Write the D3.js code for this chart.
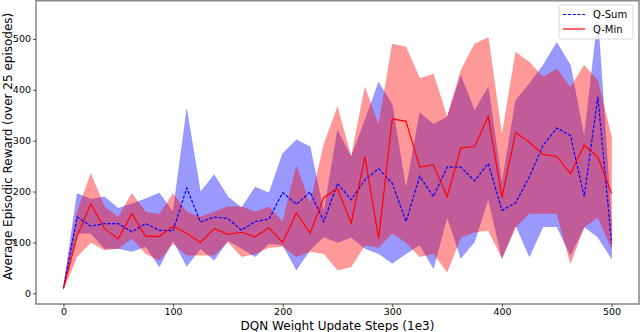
<!DOCTYPE html>
<html><head><meta charset="utf-8">
<script src="https://cdn.jsdelivr.net/npm/d3@7"></script>
<style>html,body{margin:0;padding:0;background:#fff;} svg{display:block;font-family:"DejaVu Sans",sans-serif;}</style>
</head><body>
<svg id="c" width="640" height="332"></svg>
<script>
const steps = d3.range(41).map(i => i * 12.5);
const qSum   = [10,150,132,137,137,121,137,124,123,207,140,150,147,124,141,146,198,175,199,141,216,184,223,245,216,141,230,190,248,248,221,255,163,178,229,291,325,310,190,386,98];
const qSumHi = [12,196,185,190,167,176,186,197,160,362,199,233,190,168,209,197,275,302,288,160,320,268,340,415,370,205,355,333,346,428,359,405,216,379,412,448,493,448,307,540,140];
const qSumLo = [8,118,118,88,88,82,92,52,104,53,88,65,104,88,72,98,95,46,85,111,100,110,88,78,59,78,95,49,150,69,101,186,69,134,72,131,131,75,131,110,68];
const qMin   = [10,112,176,127,107,157,112,112,132,118,100,127,116,120,111,129,100,158,118,188,206,138,268,108,343,338,248,253,190,286,288,348,188,316,297,273,269,235,291,268,196];
const qMinHi = [12,160,235,170,150,196,160,155,196,160,150,160,170,170,160,170,140,250,175,292,366,268,405,330,490,484,422,431,346,438,490,503,310,474,454,425,441,405,448,418,307];
const qMinLo = [8,72,100,85,88,108,78,65,98,75,75,75,101,72,78,90,92,72,82,78,46,52,95,90,118,100,72,78,42,110,120,124,69,130,157,157,157,59,130,150,88];
const xTicks = [0,100,200,300,400,500];
const yTicks = [0,100,200,300,400,500];
const seriesNames = ["Q-Sum","Q-Min"];
const xLabel = "DQN Weight Update Steps (1e3)";
const yLabel = "Average Episodic Reward (over 25 episodes)";

const svg = d3.select("#c");
const L = 36, R = 639, T = 0.75, B = 304;
const x = d3.scaleLinear().domain([-25, 525]).range([L, R]);
const y = d3.scaleLinear().domain([-21, 575]).range([B, T]);

const area = (hi, lo) => d3.area().x((d,i)=>x(steps[i])).y0((d,i)=>y(lo[i])).y1((d,i)=>y(hi[i]))(steps);
const line = v => d3.line().x((d,i)=>x(steps[i])).y((d,i)=>y(v[i]))(steps);

const g = svg.append("g");
g.append("path").attr("d", area(qSumHi, qSumLo)).attr("fill","#0000ff").attr("fill-opacity",0.4)
  .attr("stroke","#0000ff").attr("stroke-opacity",0.15).attr("stroke-width",1);
g.append("path").attr("d", area(qMinHi, qMinLo)).attr("fill","#ff0000").attr("fill-opacity",0.4)
  .attr("stroke","#ff0000").attr("stroke-opacity",0.15).attr("stroke-width",1);
g.append("path").attr("d", line(qSum)).attr("fill","none").attr("stroke","#0000ff").attr("stroke-width",1.2).attr("stroke-dasharray","3.2,1.6");
g.append("path").attr("d", line(qMin)).attr("fill","none").attr("stroke","#ff0000").attr("stroke-width",1.2);

// frame
svg.append("rect").attr("x",L).attr("y",T).attr("width",R-L).attr("height",B-T)
  .attr("fill","none").attr("stroke","#8c8c8c").attr("stroke-width",1.6);

// axes
const xa = svg.append("g").attr("transform",`translate(0,${B})`)
  .call(d3.axisBottom(x).tickValues(xTicks).tickSize(3).tickPadding(1.5).tickFormat(d3.format("d")));
const ya = svg.append("g").attr("transform",`translate(${L},0)`)
  .call(d3.axisLeft(y).tickValues(yTicks).tickSize(3).tickPadding(2).tickFormat(d3.format("d")));
[xa, ya].forEach(a => {
  a.select(".domain").remove();
  a.selectAll("text").attr("font-family","DejaVu Sans").attr("font-size","9.5px").attr("fill","#000");
  a.selectAll("line").attr("stroke","#222").attr("stroke-width",0.8);
});

svg.append("text").attr("x",(L+R)/2).attr("y",330).attr("text-anchor","middle")
  .attr("font-size","12px").attr("fill","#000").text(xLabel);
svg.append("text").attr("transform",`translate(12,${(T+B)/2 - 6}) rotate(-90)`).attr("text-anchor","middle")
  .attr("font-size","12px").attr("fill","#000").text(yLabel);

// legend
const lg = svg.append("g");
lg.append("rect").attr("x",559).attr("y",5).attr("width",74).attr("height",34).attr("rx",2)
  .attr("fill","#fff").attr("fill-opacity",0.8).attr("stroke","#d0d0d0").attr("stroke-width",0.8);
const items = [{name:seriesNames[0], c:"#0000ff", dash:"3.2,1.6", yy:14.5},{name:seriesNames[1], c:"#ff0000", dash:null, yy:29}];
items.forEach(it => {
  lg.append("line").attr("x1",563).attr("x2",585).attr("y1",it.yy).attr("y2",it.yy)
    .attr("stroke",it.c).attr("stroke-width",1.2).attr("stroke-dasharray",it.dash);
  lg.append("text").attr("x",593).attr("y",it.yy).attr("dy","0.36em").attr("font-size","10px").attr("fill","#000").text(it.name);
});
</script>
</body></html>
